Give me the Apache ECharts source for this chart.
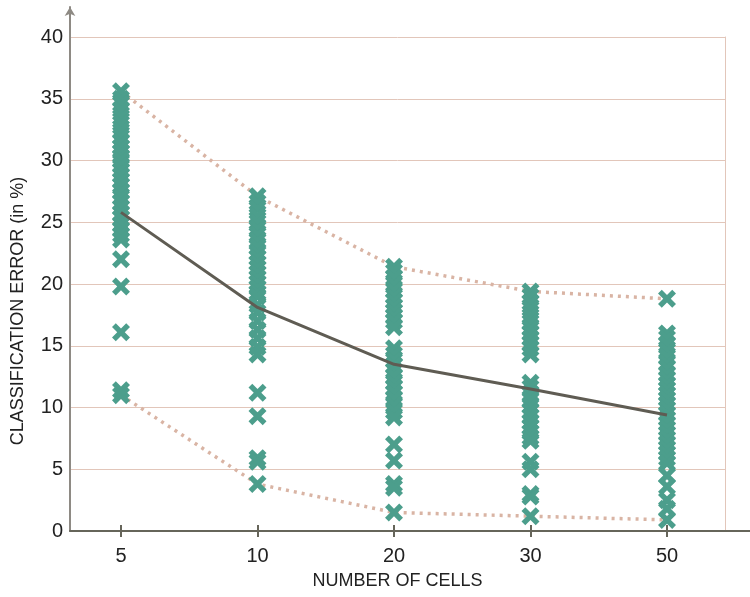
<!DOCTYPE html>
<html>
<head>
<meta charset="utf-8">
<script src="https://cdn.jsdelivr.net/npm/echarts@6/dist/echarts.min.js"></script>
<style>html,body{margin:0;padding:0;background:#fff}#c{width:750px;height:597px}</style>
</head>
<body>
<div id="c"></div>
<script>
const categories = ['5', '10', '20', '30', '50'];
const yTicks = [0, 5, 10, 15, 20, 25, 30, 35, 40];
const err5 = [35.6, 35.0, 34.6, 34.1, 33.5, 33.0, 32.4, 31.9, 31.5, 31.1, 30.7, 30.3, 30.0, 29.6, 29.2, 28.8, 28.4, 28.0, 27.5, 27.0, 26.6, 26.2, 25.7, 25.3, 24.8, 24.4, 24.0, 23.6, 22.0, 19.8, 16.1, 11.4, 11.0];
const err10 = [27.1, 26.6, 26.1, 25.5, 25.0, 24.5, 24.0, 23.5, 23.0, 22.5, 22.1, 21.7, 21.3, 20.9, 20.5, 20.1, 19.7, 19.3, 19.0, 18.3, 17.7, 17.0, 16.3, 15.6, 14.9, 14.3, 11.2, 9.3, 5.9, 5.6, 3.8];
const err20 = [21.4, 21.0, 20.5, 20.0, 19.5, 19.0, 18.6, 18.2, 17.8, 17.4, 17.0, 16.5, 14.8, 14.3, 13.8, 13.4, 13.0, 12.5, 12.0, 11.6, 11.2, 10.7, 10.2, 9.7, 9.2, 7.0, 5.7, 3.8, 3.5, 1.5];
const err30 = [19.4, 19.0, 18.5, 18.0, 17.4, 16.9, 16.4, 16.0, 15.6, 15.2, 14.8, 14.3, 12.0, 11.6, 11.1, 10.6, 10.1, 9.7, 9.3, 8.8, 8.4, 8.0, 7.6, 7.3, 5.6, 5.0, 3.0, 2.8, 1.2];
const err50 = [18.8, 16.0, 15.6, 15.1, 14.6, 14.1, 13.6, 13.2, 12.7, 12.3, 11.9, 11.5, 11.1, 10.7, 10.3, 9.9, 9.5, 9.1, 8.7, 8.3, 7.9, 7.5, 7.1, 6.7, 6.3, 5.9, 5.5, 4.5, 3.6, 2.5, 1.8, 0.9];
const meanErr = [25.8, 18.1, 13.5, 11.5, 9.4];
const maxErr = [35.6, 27.1, 21.4, 19.4, 18.8];
const minErr = [11.0, 3.8, 1.5, 1.2, 0.9];

const allErr = [err5, err10, err20, err30, err50];
const scatterData = allErr.flatMap((arr, i) => arr.map(v => [i, v]));
const toLine = arr => arr.map((v, i) => [i, v]);
const idx = categories.map((c, i) => i);

const xMin = -51 / 136.5;
const xMax0 = xMin + 655 / 136.5;
const xMax1 = xMin + 680 / 136.5;
const yMax1 = 40 + 30 / 12.35;

const X = 'path://M0,21L21,0L50,29L79,0L100,21L71,50L100,79L79,100L50,71L21,100L0,79L29,50Z';
const font = '"Liberation Sans", Arial, sans-serif';

const chart = echarts.init(document.getElementById('c'), null, {renderer: 'canvas'});
chart.setOption({
  animation: false,
  grid: [
    {left: 70, right: 25, top: 37, bottom: 66},
    {left: 70, right: 0, top: 7, bottom: 66}
  ],
  xAxis: [
    {type: 'value', gridIndex: 0, min: xMin, max: xMax0, position: 'bottom',
     axisLine: {show: false, onZero: false}, axisTick: {show: false}, axisLabel: {show: false}, splitLine: {show: false},
     name: 'NUMBER OF CELLS', nameLocation: 'middle', nameGap: 41,
     nameTextStyle: {fontFamily: font, fontSize: 18, color: '#222'}},
    {type: 'value', gridIndex: 1, min: xMin, max: xMax1, position: 'bottom',
     axisLine: {show: true, onZero: false, lineStyle: {color: '#66655a', width: 2}},
     axisTick: {show: true, length: 6, customValues: idx, lineStyle: {color: '#66655a', width: 2}},
     axisLabel: {show: true, customValues: idx, margin: 15, formatter: v => categories[Math.round(v)],
                 fontFamily: font, fontSize: 20, color: '#222'},
     splitLine: {show: false}},
    {type: 'value', gridIndex: 1, min: xMin, max: xMax1, position: 'bottom',
     axisLine: {show: false, onZero: false},
     axisTick: {show: true, inside: true, length: 6, customValues: idx, lineStyle: {color: '#66655a', width: 2}},
     axisLabel: {show: false}, splitLine: {show: false}}
  ],
  yAxis: [
    {type: 'value', gridIndex: 0, min: 0, max: 40, interval: 5, position: 'left',
     axisLine: {show: false, onZero: false}, axisTick: {show: false},
     axisLabel: {show: true, margin: 7, fontFamily: font, fontSize: 20, color: '#222'},
     splitLine: {show: true, lineStyle: {color: '#e2c6ba', width: 1}}},
    {type: 'value', gridIndex: 0, position: 'right', min: 0, max: 40,
     axisLine: {show: true, onZero: false, lineStyle: {color: '#e2c6ba', width: 1}},
     axisTick: {show: false}, axisLabel: {show: false}, splitLine: {show: false}},
    {type: 'value', gridIndex: 1, min: 0, max: yMax1, position: 'left',
     axisLine: {show: true, onZero: false, symbol: ['none', 'arrow'], symbolSize: [8, 9], lineStyle: {color: '#8e8a84', width: 2}},
     axisTick: {show: false}, axisLabel: {show: false}, splitLine: {show: false}}
  ],
  graphic: [{
    type: 'text', x: 18, y: 311, rotation: Math.PI / 2,
    style: {text: 'CLASSIFICATION ERROR (in %)', font: '18px ' + font, fill: '#222', align: 'center', verticalAlign: 'middle'}
  }],
  series: [
    {type: 'line', xAxisIndex: 0, yAxisIndex: 0, data: toLine(maxErr), symbol: 'none', z: 2,
     lineStyle: {color: '#d9b4a4', width: 3.5, type: [3, 5]}},
    {type: 'line', xAxisIndex: 0, yAxisIndex: 0, data: toLine(minErr), symbol: 'none', z: 2,
     lineStyle: {color: '#d9b4a4', width: 3.5, type: [3, 5]}},
    {type: 'scatter', xAxisIndex: 0, yAxisIndex: 0, data: scatterData, symbol: X, symbolSize: 18, z: 3,
     itemStyle: {color: '#4c9e8c', opacity: 1}},
    {type: 'line', xAxisIndex: 0, yAxisIndex: 0, data: toLine(meanErr), symbol: 'none', z: 4,
     lineStyle: {color: '#5f5c53', width: 3}}
  ]
});
</script>
</body>
</html>
